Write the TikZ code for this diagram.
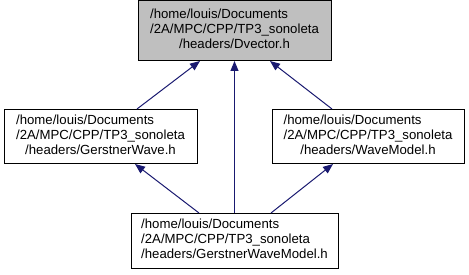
\documentclass[tikz,border=0pt]{standalone}
\usepackage{fontspec}
\setmainfont{Liberation Sans}
\usetikzlibrary{arrows.meta}
\definecolor{edgeblue}{RGB}{25,25,112}
\definecolor{rootgray}{RGB}{191,191,191}
% Header label: first two lines flush left, last line centred
\newcommand{\hdrlabel}[3]{\begin{tabular}{@{}l@{}}#1\\#2\\\multicolumn{1}{@{}c@{}}{#3}\end{tabular}}
\begin{document}
\begin{tikzpicture}[x=1pt,y=1pt,
  filebox/.style={draw=black, line width=1pt, rectangle, inner sep=0pt,
    font=\fontsize{13.2}{15}\selectfont, fill=white},
  dep/.style={draw=edgeblue, line width=1pt,
    {Triangle[length=10pt,width=8pt]}-},
]
\useasboundingbox (0,0) rectangle (469,275);

\node[filebox, fill=rootgray, minimum width=193, minimum height=60] (dvec) at (234.5,244.5)
  {\hdrlabel{/home/louis/Documents}{/2A/MPC/CPP/TP3\_sonoleta}{/headers/Dvector.h}};
\node[filebox, minimum width=193, minimum height=54] (gw) at (100.5,138.5)
  {\hdrlabel{/home/louis/Documents}{/2A/MPC/CPP/TP3\_sonoleta}{/headers/GerstnerWave.h}};
\node[filebox, minimum width=192, minimum height=54] (wm) at (368,138.5)
  {\hdrlabel{/home/louis/Documents}{/2A/MPC/CPP/TP3\_sonoleta}{/headers/WaveModel.h}};
\node[filebox, minimum width=207, minimum height=55] (gwm) at (234.5,34)
  {\hdrlabel{/home/louis/Documents}{/2A/MPC/CPP/TP3\_sonoleta}{/headers/GerstnerWaveModel.h}};

\draw[dep] ([xshift=-34.5]dvec.south) -- ([xshift=36.5]gw.north);
\draw[dep] ([xshift=35.5]dvec.south) -- ([xshift=-36]wm.north);
\draw[dep] (dvec.south) -- (gwm.north);
\draw[dep] ([xshift=34.5]gw.south) -- ([xshift=-35.5]gwm.north);
\draw[dep] ([xshift=-35]wm.south) -- ([xshift=36.5]gwm.north);
\end{tikzpicture}
\end{document}
